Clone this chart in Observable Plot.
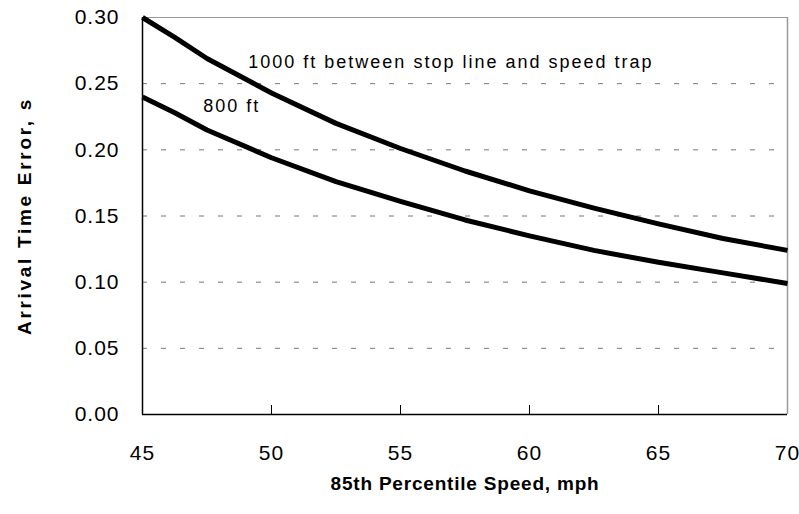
<!DOCTYPE html>
<html>
<head>
<meta charset="utf-8">
<script src="https://cdn.jsdelivr.net/npm/d3@7"></script>
<script src="https://cdn.jsdelivr.net/npm/@observablehq/plot@0.6"></script>
<style>
  html, body { margin: 0; padding: 0; background: #fff; }
  #chart svg { display: block; }
  .spaced1 text { letter-spacing: 1px; }
  .spaced2 text { letter-spacing: 2px; }
</style>
</head>
<body>
<div id="chart"></div>
<script>
const speeds = [45, 46.25, 47.5, 50, 52.5, 55, 57.5, 60, 62.5, 65, 67.5, 70];
const err1000 = [0.300, 0.285, 0.269, 0.243, 0.220, 0.201, 0.184, 0.169, 0.156, 0.144, 0.133, 0.124];
const err800  = [0.240, 0.228, 0.215, 0.194, 0.176, 0.161, 0.147, 0.135, 0.124, 0.115, 0.107, 0.099];
const xTicks = [45, 50, 55, 60, 65, 70];
const yTicks = [0.00, 0.05, 0.10, 0.15, 0.20, 0.25, 0.30];
const gridTicks = [0.05, 0.10, 0.15, 0.20, 0.25];
const labels = [
  {text: "1000 ft between stop line and speed trap", speed: 49.1, err: 0.266},
  {text: "800 ft", speed: 47.35, err: 0.233}
];
const xTitle = "85th Percentile Speed, mph";
const yTitle = "Arrival Time Error, s";

const rows = [];
speeds.forEach((s, i) => {
  rows.push({series: "1000 ft", speed: s, err: err1000[i]});
  rows.push({series: "800 ft", speed: s, err: err800[i]});
});

const W = 799, H = 514;
const mL = 142, mR = 12, mT = 17, mB = 100;
const tickLen = 9 * (0.30 / (H - mT - mB));

const font = "'Liberation Sans', Arial, sans-serif";

const chart = Plot.plot({
  width: W,
  height: H,
  marginLeft: mL,
  marginRight: mR,
  marginTop: mT,
  marginBottom: mB,
  style: {fontFamily: font, background: "#fff", color: "#000"},
  x: {domain: [45, 70]},
  y: {domain: [0, 0.30]},
  marks: [
    Plot.gridY(gridTicks, {stroke: "#777", strokeOpacity: 1, strokeWidth: 1, strokeDasharray: "5,14"}),
    Plot.ruleY([0.30], {stroke: "#999", strokeWidth: 1}),
    Plot.ruleX([70], {stroke: "#999", strokeWidth: 1.5}),
    Plot.ruleX(xTicks.slice(1, -1), {x: d => d, y1: 0, y2: tickLen, stroke: "#000", strokeWidth: 1}),
    Plot.ruleY([0], {stroke: "#000", strokeWidth: 1.5}),
    Plot.ruleX([45], {stroke: "#000", strokeWidth: 1.5}),
    Plot.axisX(xTicks, {tickSize: 0, tickPadding: 31, fontSize: 21, className: "spaced1", tickFormat: d => String(d), label: null}),
    Plot.axisY(yTicks, {tickSize: 0, tickPadding: 23, fontSize: 21, className: "spaced1", tickFormat: d => d.toFixed(2), label: null}),
    Plot.line(rows, {x: "speed", y: "err", z: "series", stroke: "#000", strokeWidth: 5, strokeLinejoin: "round", strokeLinecap: "butt"}),
    Plot.text(labels, {x: "speed", y: "err", text: "text", textAnchor: "start", fontSize: 18, fill: "#000", className: "spaced2"}),
    Plot.text([xTitle], {frameAnchor: "bottom", dy: 75, text: d => d, fontSize: 19, fontWeight: "bold", fill: "#000"}),
    Plot.text([yTitle], {frameAnchor: "left", dx: -118, rotate: -90, textAnchor: "middle", text: d => d, fontSize: 19, fontWeight: "bold", fill: "#000"})
  ]
});
// letter spacing for titles
chart.querySelectorAll("text").forEach(t => {
  if (t.textContent === xTitle) t.setAttribute("letter-spacing", "0.8px");
  if (t.textContent === yTitle) t.setAttribute("letter-spacing", "2.7px");
});
document.getElementById("chart").appendChild(chart);
</script>
</body>
</html>
